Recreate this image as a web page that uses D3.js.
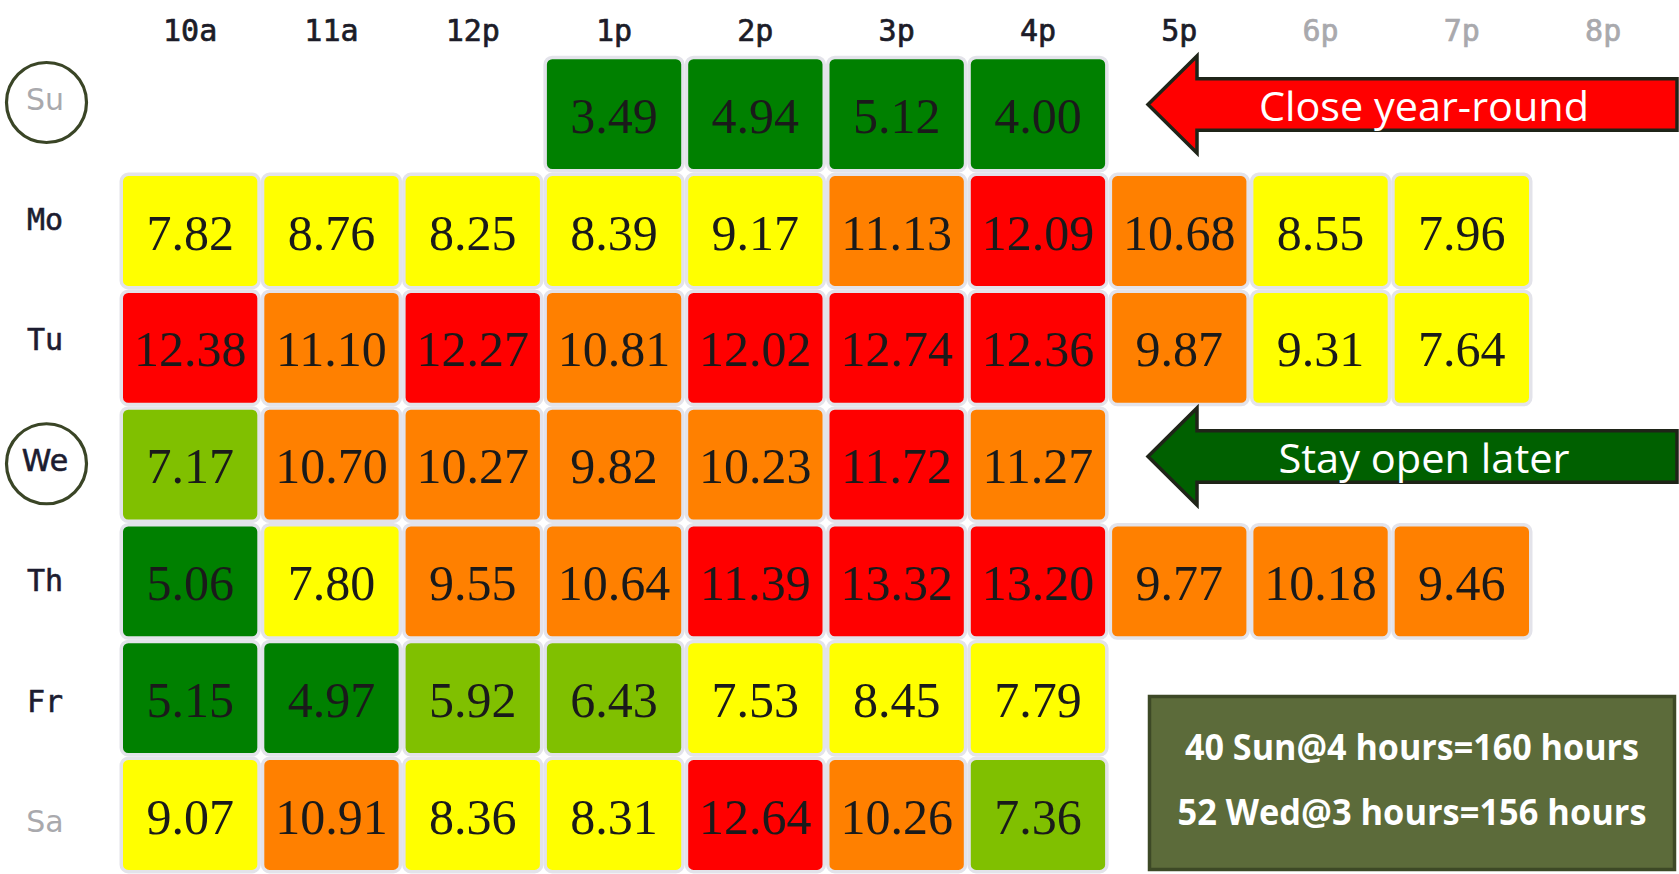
<!DOCTYPE html>
<html>
<head>
<meta charset="utf-8">
<script src="https://cdn.jsdelivr.net/npm/d3@7"></script>
<style>
  html, body { margin: 0; padding: 0; background: #ffffff; }
  svg { display: block; }
</style>
</head>
<body>
<svg id="chart" width="1679" height="874"></svg>
<script>
// ---------- data ----------
const hours = ["10a","11a","12p","1p","2p","3p","4p","5p","6p","7p","8p"];
const days  = ["Su","Mo","Tu","We","Th","Fr","Sa"];
const suValues = [null, null, null, 3.49, 4.94, 5.12, 4.00, null, null, null, null];
const moValues = [7.82, 8.76, 8.25, 8.39, 9.17, 11.13, 12.09, 10.68, 8.55, 7.96, null];
const tuValues = [12.38, 11.10, 12.27, 10.81, 12.02, 12.74, 12.36, 9.87, 9.31, 7.64, null];
const weValues = [7.17, 10.70, 10.27, 9.82, 10.23, 11.72, 11.27, null, null, null, null];
const thValues = [5.06, 7.80, 9.55, 10.64, 11.39, 13.32, 13.20, 9.77, 10.18, 9.46, null];
const frValues = [5.15, 4.97, 5.92, 6.43, 7.53, 8.45, 7.79, null, null, null, null];
const saValues = [9.07, 10.91, 8.36, 8.31, 12.64, 10.26, 7.36, null, null, null, null];
const colorBreaks = [5.5, 7.45, 9.4, 11.3];
const colorSteps  = ["#008000", "#80c000", "#ffff00", "#ff8000", "#ff0000"];
const circledDays = ["Su", "We"];
const mutedDays   = ["Su", "Sa"];
const mutedHours  = ["6p", "7p", "8p"];
const redArrowText   = "Close year-round";
const greenArrowText = "Stay open later";
const noteLines = ["40 Sun@4 hours=160 hours", "52 Wed@3 hours=156 hours"];

const rows = [suValues, moValues, tuValues, weValues, thValues, frValues, saValues];
const cells = [];
rows.forEach((vals, i) => vals.forEach((v, j) => {
  if (v != null) cells.push({ day: days[i], hour: hours[j], value: v });
}));

// ---------- scales ----------
const svg = d3.select("#chart");
const x = d3.scaleBand().domain(hours).range([119.5, 1673.8]).padding(0);
const y = d3.scaleBand().domain(days).range([55.8, 873.4]).padding(0);
const labelY = d3.scalePoint().domain(days).range([98.5, 821]);
const color = d3.scaleThreshold().domain(colorBreaks).range(colorSteps);

// ---------- cells ----------
const sw = 3.5;
const g = svg.append("g");
const cellG = g.selectAll("g.cell").data(cells).join("g").attr("class", "cell");
cellG.append("rect")
  .attr("x", d => x(d.hour) + sw / 2)
  .attr("y", d => y(d.day) + sw / 2)
  .attr("width", x.bandwidth() - sw)
  .attr("height", y.bandwidth() - sw)
  .attr("rx", 7).attr("ry", 7)
  .attr("fill", d => color(d.value))
  .attr("stroke", "#e3e3ea")
  .attr("stroke-width", sw);
cellG.append("text")
  .attr("x", d => x(d.hour) + x.bandwidth() / 2)
  .attr("y", d => y(d.day) + y.bandwidth() / 2 + 18.5)
  .attr("text-anchor", "middle")
  .attr("font-family", "'Liberation Serif', 'Times New Roman', serif")
  .attr("font-size", 50)
  .attr("fill", "#1a1a1a")
  .text(d => d.value.toFixed(2));

// ---------- column labels ----------
svg.append("g").selectAll("text").data(hours).join("text")
  .attr("x", d => x(d) + x.bandwidth() / 2)
  .attr("y", 41)
  .attr("text-anchor", "middle")
  .attr("font-family", "'DejaVu Sans Mono', monospace")
  .attr("font-size", 30)
  .attr("fill", d => mutedHours.includes(d) ? "#a9a9ad" : "#1c1c28")
  .attr("stroke", d => mutedHours.includes(d) ? "#a9a9ad" : "#1c1c28")
  .attr("stroke-width", 0.7)
  .text(d => d);

// ---------- row labels ----------
const rowG = svg.append("g");
rowG.selectAll("circle").data(days.filter(d => circledDays.includes(d))).join("circle")
  .attr("cx", 46.5)
  .attr("cy", d => labelY(d) + 4)
  .attr("r", 40)
  .attr("fill", "none")
  .attr("stroke", "#3a4526")
  .attr("stroke-width", 3.2);
rowG.selectAll("text").data(days).join("text")
  .attr("x", 45)
  .attr("y", d => labelY(d) + 11)
  .attr("text-anchor", "middle")
  .attr("font-family", d => (mutedDays.includes(d) || d === "We") ? "'DejaVu Sans', sans-serif" : "'DejaVu Sans Mono', monospace")
  .attr("font-size", 30)
  .attr("fill", d => mutedDays.includes(d) ? "#a9a9ad" : "#1c1c30")
  .attr("stroke", d => mutedDays.includes(d) ? "none" : "#1c1c30")
  .attr("stroke-width", 0.6)
  .text(d => d);

// ---------- arrows ----------
function arrowPath(cy) {
  const tip = 1148, base = 1197, right = 1677, hh = 48.5, sh = 25.8;
  return `M${tip},${cy} L${base},${cy - hh} L${base},${cy - sh} L${right},${cy - sh} L${right},${cy + sh} L${base},${cy + sh} L${base},${cy + hh} Z`;
}
const arrows = [
  { cy: 104.5, fill: "#ff0000", text: redArrowText, tl: 330 },
  { cy: 456.5, fill: "#006000", text: greenArrowText, tl: 291 }
];
const aG = svg.append("g").selectAll("g").data(arrows).join("g");
aG.append("path")
  .attr("d", d => arrowPath(d.cy))
  .attr("fill", d => d.fill)
  .attr("stroke", "#1f2418")
  .attr("stroke-width", 3.5)
  .attr("stroke-linejoin", "miter");
aG.append("text")
  .attr("x", 1424)
  .attr("y", d => d.cy + 16)
  .attr("text-anchor", "middle")
  .attr("font-family", "'Open Sans', 'Noto Sans', sans-serif")
  .attr("font-size", 40)
  .attr("fill", "#ffffff")
  .attr("textLength", d => d.tl)
  .attr("lengthAdjust", "spacingAndGlyphs")
  .text(d => d.text);

// ---------- note box ----------
const box = svg.append("g");
box.append("rect")
  .attr("x", 1149.5).attr("y", 696.5)
  .attr("width", 525).attr("height", 173)
  .attr("fill", "#5c6b3a")
  .attr("stroke", "#3d4926")
  .attr("stroke-width", 3.5);
box.selectAll("text").data(noteLines).join("text")
  .attr("x", 1412)
  .attr("y", (d, i) => 760 + i * 65)
  .attr("text-anchor", "middle")
  .attr("font-family", "'Open Sans', 'Noto Sans', sans-serif")
  .attr("font-weight", "bold")
  .attr("font-size", 36)
  .attr("fill", "#ffffff")
  .attr("textLength", (d, i) => i === 0 ? 454 : 469)
  .attr("lengthAdjust", "spacingAndGlyphs")
  .text(d => d);
</script>
</body>
</html>
